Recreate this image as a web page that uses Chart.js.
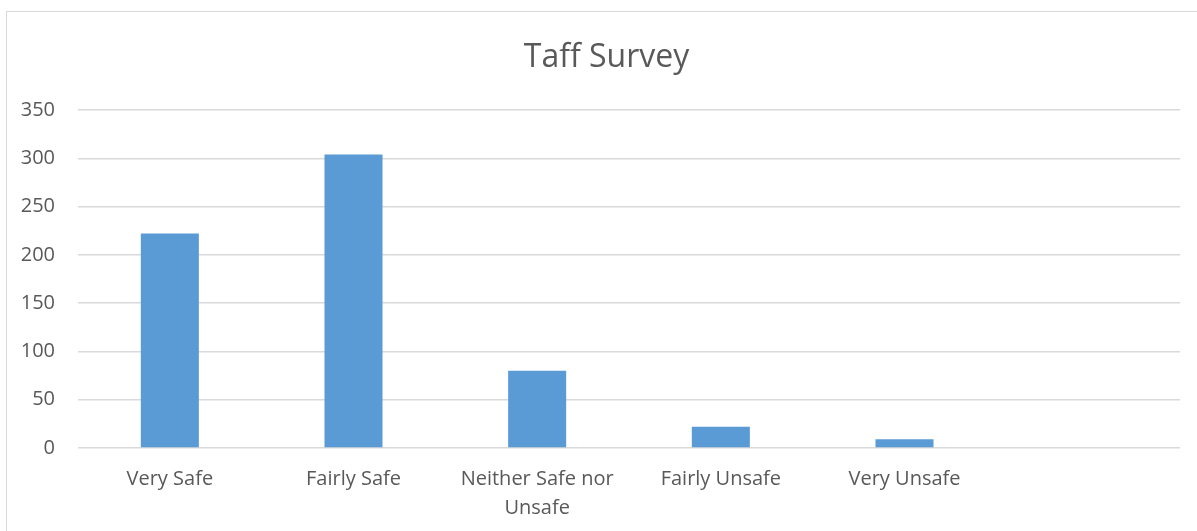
<!DOCTYPE html>
<html>
<head>
<meta charset="utf-8">
<script src="https://cdn.jsdelivr.net/npm/chart.js@4"></script>
<style>
  html, body { margin: 0; padding: 0; background: #fff; }
  #kortele { position: absolute; left: 0; top: 0; width: 1197px; height: 531px; }
  #remelis { position: absolute; left: 6px; top: 11px; width: 1300px; height: 600px; border: 1px solid #d9d9d9; box-sizing: border-box; }
  canvas { position: absolute; left: 0; top: 0; }
</style>
</head>
<body>
<div id="kortele">
  <div id="remelis"></div>
  <canvas id="diagrama" width="1197" height="531"></canvas>
</div>
<script>
// Kategorijos ir reikšmės (nuskaityta iš paveikslėlio)
const kategorijos = ['Very Safe', 'Fairly Safe', ['Neither Safe nor', 'Unsafe'], 'Fairly Unsafe', 'Very Unsafe', ''];
const atsakymai = [222, 304, 80, 22, 9, null];
const yMin = 0;
const yMax = 350;
const yZingsnis = 50;

const teksoSpalva = '#595959';
const tinkloSpalva = '#d9d9d9';
const stulpelioSpalva = '#5b9bd5';

// Pavadinimas originale centruotas ne pagal visą drobę, o pagal rėmelį
const pavadinimoPoslinkis = {
  id: 'pavadinimoPoslinkis',
  afterLayout(chart) {
    if (chart.titleBlock) {
      chart.titleBlock.left = 33;
    }
  }
};

const ctx = document.getElementById('diagrama').getContext('2d');
new Chart(ctx, {
  type: 'bar',
  data: {
    labels: kategorijos,
    datasets: [{
      label: 'Taff Survey',
      data: atsakymai,
      backgroundColor: stulpelioSpalva,
      borderWidth: 0,
      barPercentage: 1,
      categoryPercentage: 0.316
    }]
  },
  options: {
    responsive: false,
    animation: false,
    layout: { padding: { left: 0, right: 17, top: 0, bottom: 0 } },
    plugins: {
      legend: { display: false },
      tooltip: { enabled: false },
      title: {
        display: true,
        text: 'Taff Survey',
        color: teksoSpalva,
        font: { family: 'Open Sans', size: 32, weight: 'normal', lineHeight: 1 },
        padding: { top: 42, bottom: 36 }
      }
    },
    scales: {
      x: {
        grid: { display: false },
        border: { display: false },
        ticks: {
          color: teksoSpalva,
          font: { family: 'Open Sans', size: 20, lineHeight: 1.45 },
          padding: 9,
          maxRotation: 0,
          autoSkip: false
        },
        afterFit: (skale) => { skale.height = 83; }
      },
      y: {
        min: yMin,
        max: yMax,
        grid: { color: tinkloSpalva, lineWidth: 1.5, drawTicks: false },
        border: { display: false },
        ticks: {
          stepSize: yZingsnis,
          color: teksoSpalva,
          font: { family: 'Open Sans', size: 20 },
          padding: 23
        },
        afterFit: (skale) => { skale.width = 78; }
      }
    }
  },
  plugins: [pavadinimoPoslinkis]
});
</script>
</body>
</html>
